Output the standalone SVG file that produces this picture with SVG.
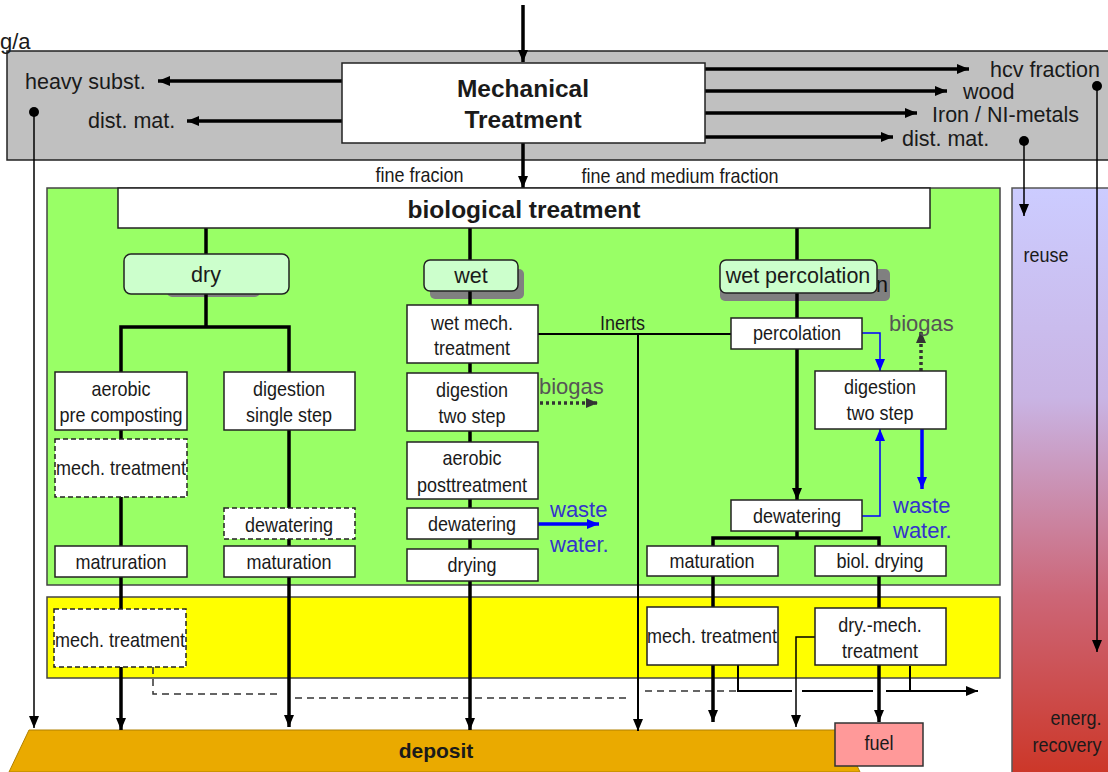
<svg xmlns="http://www.w3.org/2000/svg" width="1108" height="772" viewBox="0 0 1108 772">
<style>
text{font-family:"Liberation Sans",Arial,sans-serif;fill:#1a1a1a}
.lbl{font-size:20px;text-anchor:middle;transform-box:fill-box;transform-origin:center;transform:scaleX(0.9)}
.nar{font-size:20px;text-anchor:middle;transform-box:fill-box;transform-origin:center;transform:scaleX(0.9)}
.big{font-size:21.5px}
.bold{font-weight:bold;text-anchor:middle}
.box{fill:#fff;stroke:#222;stroke-width:1.5}
.dbox{fill:#fff;stroke:#222;stroke-width:1.5;stroke-dasharray:5,3}
.tag{fill:#CCFFCC;stroke:#222;stroke-width:1.5}
.shadow{fill:#808080}
.thick{stroke:#000;stroke-width:3.5;fill:none}
.thin{stroke:#000;stroke-width:2;fill:none}
.dash{stroke:#333;stroke-width:1.5;fill:none;stroke-dasharray:7,5}
.gas{stroke:#333;stroke-width:3.5;fill:none;stroke-dasharray:3,3}
.bthick{stroke:#0000FF;stroke-width:3.5;fill:none}
.bthin{stroke:#0000FF;stroke-width:1.5;fill:none}
.gray{fill:#555;font-size:22px}
.blue{fill:#3333CC;font-size:22px}
</style>
<defs>
<marker id="ah" markerWidth="12" markerHeight="10" refX="12" refY="5" orient="auto" markerUnits="userSpaceOnUse"><path d="M0,0 L12,5 L0,10 z" fill="#000"/></marker>
<marker id="ahb" markerWidth="12" markerHeight="10" refX="12" refY="5" orient="auto" markerUnits="userSpaceOnUse"><path d="M0,0 L12,5 L0,10 z" fill="#0000FF"/></marker>
<marker id="ahg" markerWidth="12" markerHeight="10" refX="12" refY="5" orient="auto" markerUnits="userSpaceOnUse"><path d="M0,0 L12,5 L0,10 z" fill="#333"/></marker>
<linearGradient id="rg" x1="0" y1="0" x2="0" y2="1">
<stop offset="0" stop-color="#CCCCFF"/>
<stop offset="0.35" stop-color="#C9B4E4"/>
<stop offset="0.68" stop-color="#CC6677"/>
<stop offset="1" stop-color="#CC3322"/>
</linearGradient>
</defs>

<g id="regions">
<rect id="mech-area" x="7" y="51" width="1110" height="109" fill="#C0C0C0" stroke="#222" stroke-width="1.5"/>
<rect id="bio-area" x="47" y="188" width="953" height="397" fill="#99FF66" stroke="#444" stroke-width="1.5"/>
<rect id="post-area" x="47" y="597" width="953" height="81" fill="#FFFF00" stroke="#444" stroke-width="1.5"/>
<rect id="reuse-area" x="1012" y="188" width="110" height="600" fill="url(#rg)" stroke="#555" stroke-width="1.5"/>
<polygon id="deposit" points="29,730 840,730 860,772 9,772" fill="#EAAA00" stroke="#B08000" stroke-width="1"/>
</g>

<g id="shadows">
<rect x="167" y="262" width="93" height="35" rx="5" class="shadow"/>
<rect x="430" y="269" width="94" height="30" rx="5" class="shadow"/>
<rect x="720" y="269" width="170" height="32" rx="5" class="shadow"/>
<text x="876" y="292" class="big" style="fill:#111">n</text>
</g>

<g id="connectors">
<line x1="523" y1="5" x2="523" y2="62" class="thick" marker-end="url(#ah)"/>
<line x1="523" y1="143" x2="523" y2="188" class="thick" marker-end="url(#ah)"/>
<line x1="342" y1="81" x2="158" y2="81" class="thick" marker-end="url(#ah)"/>
<line x1="342" y1="121" x2="187" y2="121" class="thick" marker-end="url(#ah)"/>
<line x1="705" y1="69" x2="969" y2="69" class="thick" marker-end="url(#ah)"/>
<line x1="705" y1="91" x2="947" y2="91" class="thick" marker-end="url(#ah)"/>
<line x1="705" y1="113" x2="917" y2="113" class="thick" marker-end="url(#ah)"/>
<line x1="705" y1="137" x2="893" y2="137" class="thick" marker-end="url(#ah)"/>
<circle cx="34" cy="112" r="5" fill="#000"/>
<line x1="34" y1="112" x2="34" y2="728" stroke="#000" stroke-width="1.5" marker-end="url(#ah)"/>
<circle cx="1097" cy="86" r="5" fill="#000"/>
<line x1="1097" y1="86" x2="1097" y2="652" stroke="#000" stroke-width="1.5" marker-end="url(#ah)"/>
<circle cx="1024" cy="141" r="5" fill="#000"/>
<line x1="1024" y1="141" x2="1024" y2="216" stroke="#000" stroke-width="1.5" marker-end="url(#ah)"/>

<line x1="206" y1="228" x2="206" y2="254" class="thick"/>
<path d="M206,294 V327" class="thick"/>
<path d="M121,372 V327 H289 V372" class="thick"/>
<line x1="121" y1="372" x2="121" y2="730" class="thick" marker-end="url(#ah)"/>
<line x1="289" y1="372" x2="289" y2="727" class="thick" marker-end="url(#ah)"/>
<path d="M153,667 V694 H282" class="dash"/>
<path d="M295,698 H631" class="dash"/>
<path d="M645,691 H737" class="dash"/>

<line x1="470" y1="228" x2="470" y2="730" class="thick" marker-end="url(#ah)"/>
<path d="M538,334 H731" class="thin"/>
<line x1="638" y1="334" x2="638" y2="731" class="thin" stroke-width="2.5" marker-end="url(#ah)"/>
<line x1="540" y1="403" x2="598" y2="403" class="gas" marker-end="url(#ahg)"/>
<line x1="538" y1="524" x2="599" y2="524" class="bthick" marker-end="url(#ahb)"/>

<line x1="797" y1="225" x2="797" y2="500" class="thick" marker-end="url(#ah)"/>
<path d="M862,333 H880 V371" class="bthin" marker-end="url(#ahb)"/>
<line x1="921" y1="371" x2="921" y2="331" class="gas" marker-end="url(#ahg)"/>
<line x1="922" y1="429" x2="922" y2="489" class="bthick" marker-end="url(#ahb)"/>
<path d="M862,516 H880 V429" class="bthin" marker-end="url(#ahb)"/>
<path d="M797,531 V538" class="thick"/>
<path d="M713,546 V538 H879 V546" class="thick"/>
<line x1="713" y1="576" x2="713" y2="607" class="thick"/>
<line x1="879" y1="576" x2="879" y2="608" class="thick"/>
<line x1="713" y1="665" x2="713" y2="722" class="thick" marker-end="url(#ah)"/>
<line x1="879" y1="665" x2="879" y2="722" class="thick" marker-end="url(#ah)"/>
<path d="M815,637 H796 V727" stroke="#000" stroke-width="1.5" fill="none" marker-end="url(#ah)"/>
<path d="M738,665 V691 H792 M802,691 H873 M886,691 H978" class="thin" marker-end="url(#ah)"/>
<path d="M910,666 V691" class="thin"/>
</g>

<g id="node-mech">
<rect x="342" y="63" width="363" height="80" class="box"/>
<text x="523" y="97" class="bold" font-size="24.5">Mechanical</text>
<text x="523" y="128" class="bold" font-size="24.5">Treatment</text>
</g>
<g id="mech-outputs">
<text x="0" y="49" font-size="22">g/a</text>
<text x="25" y="89" class="big">heavy subst.</text>
<text x="88" y="128" class="big">dist. mat.</text>
<text x="990" y="77" class="big">hcv fraction</text>
<text x="963" y="99" class="big">wood</text>
<text x="932" y="122" class="big">Iron / NI-metals</text>
<text x="902" y="146" class="big">dist. mat.</text>
<text x="419.5" y="182" class="nar">fine fracion</text>
<text x="680" y="183" class="nar">fine and medium fraction</text>
</g>

<g id="node-bio">
<rect x="118" y="188" width="812" height="40" class="box"/>
<text x="524" y="218" class="bold" font-size="24.5">biological treatment</text>
</g>

<g id="node-dry">
<rect x="124" y="254" width="165" height="40" rx="7" class="tag"/>
<text x="206" y="282" class="big" text-anchor="middle">dry</text>
</g>
<g id="node-aerobic"><rect x="55" y="372" width="132" height="58" class="box"/><text x="121" y="396" class="lbl">aerobic</text><text x="121" y="422" class="lbl">pre composting</text></g>
<g id="node-dig1"><rect x="224" y="372" width="131" height="58" class="box"/><text x="289" y="396" class="lbl">digestion</text><text x="289" y="422" class="lbl">single step</text></g>
<g id="node-mech1"><rect x="55" y="439" width="132" height="58" class="dbox"/><text x="121" y="475" class="lbl">mech. treatment</text></g>
<g id="node-dew1"><rect x="224" y="508" width="131" height="31" class="dbox"/><text x="289" y="532" class="lbl">dewatering</text></g>
<g id="node-mat1"><rect x="55" y="546" width="132" height="31" class="box"/><text x="121" y="569" class="lbl">matruration</text></g>
<g id="node-mat2"><rect x="224" y="546" width="131" height="31" class="box"/><text x="289" y="569" class="lbl">maturation</text></g>
<g id="node-mech2"><rect x="54" y="609" width="132" height="58" class="dbox"/><text x="120" y="647" class="lbl">mech. treatment</text></g>

<g id="node-wet">
<rect x="424" y="260" width="94" height="31" rx="6" class="tag"/>
<text x="471" y="283" class="big" text-anchor="middle">wet</text>
</g>
<g id="node-wetmech"><rect x="407" y="305" width="131" height="58" class="box"/><text x="472" y="330" class="lbl">wet mech.</text><text x="472" y="355" class="lbl">treatment</text></g>
<g id="node-dig2"><rect x="407" y="373" width="131" height="58" class="box"/><text x="472" y="397" class="lbl">digestion</text><text x="472" y="423" class="lbl">two step</text></g>
<g id="node-aer2"><rect x="407" y="442" width="131" height="57" class="box"/><text x="472" y="465" class="lbl">aerobic</text><text x="472" y="492" class="lbl">posttreatment</text></g>
<g id="node-dew2"><rect x="407" y="508" width="131" height="31" class="box"/><text x="472" y="531" class="lbl">dewatering</text></g>
<g id="node-dry2"><rect x="407" y="549" width="131" height="32" class="box"/><text x="472" y="572" class="lbl">drying</text></g>
<g id="labels-wet">
<text x="622.5" y="330" class="nar">Inerts</text>
<text x="539" y="394" class="gray">biogas</text>
<text x="550" y="517" class="blue">waste</text>
<text x="550" y="552" class="blue">water.</text>
</g>

<g id="node-wetperc">
<rect x="720" y="260" width="157" height="33" rx="6" class="tag"/>
<text x="798" y="283" class="big" text-anchor="middle">wet percolation</text>
</g>
<g id="node-perc"><rect x="731" y="318" width="131" height="31" class="box"/><text x="797" y="340" class="lbl">percolation</text></g>
<g id="node-dig3"><rect x="815" y="371" width="131" height="58" class="box"/><text x="880" y="394" class="lbl">digestion</text><text x="880" y="420" class="lbl">two step</text></g>
<g id="node-dew3"><rect x="731" y="500" width="131" height="31" class="box"/><text x="797" y="523" class="lbl">dewatering</text></g>
<g id="node-mat3"><rect x="647" y="546" width="131" height="30" class="box"/><text x="712" y="568" class="lbl">maturation</text></g>
<g id="node-biold"><rect x="815" y="546" width="131" height="30" class="box"/><text x="880" y="568" class="lbl">biol. drying</text></g>
<g id="node-mech3"><rect x="647" y="607" width="131" height="58" class="box"/><text x="712" y="643" class="lbl">mech. treatment</text></g>
<g id="node-drymech"><rect x="815" y="608" width="131" height="57" class="box"/><text x="880" y="632" class="lbl">dry.-mech.</text><text x="880" y="658" class="lbl">treatment</text></g>
<g id="labels-perc">
<text x="889" y="331" class="gray">biogas</text>
<text x="893" y="513" class="blue">waste</text>
<text x="893" y="538" class="blue">water.</text>
</g>

<g id="node-reuse">
<text x="1046" y="262" class="nar">reuse</text>
<text x="1076" y="725" class="nar">energ.</text>
<text x="1067" y="752" class="nar">recovery</text>
</g>
<g id="node-deposit">
<text x="436" y="758" class="bold" font-size="21">deposit</text>
</g>
<g id="node-fuel">
<rect x="835" y="723" width="88" height="43" fill="#FF9999" stroke="#333" stroke-width="1.5"/>
<text x="879" y="750" class="lbl">fuel</text>
</g>
</svg>
